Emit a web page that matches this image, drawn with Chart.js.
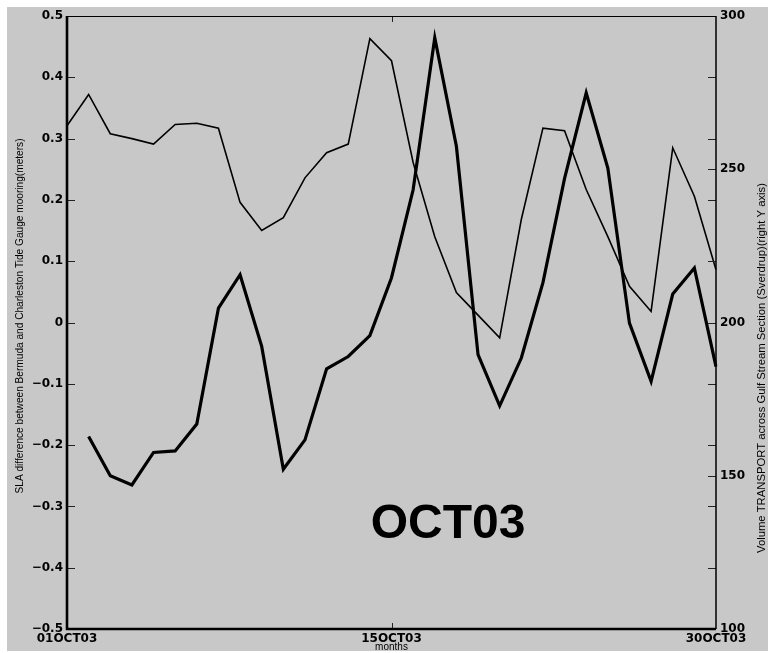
<!DOCTYPE html>
<html>
<head>
<meta charset="utf-8">
<script src="https://cdn.jsdelivr.net/npm/chart.js@4.4.1/dist/chart.umd.min.js"></script>
<style>
  html, body { margin: 0; padding: 0; background: #fff; }
  #wrap { width: 768px; height: 653px; }
</style>
</head>
<body>
<div id="wrap"><canvas id="myChart" width="768" height="653"></canvas></div>
<script>
// samples along the time axis (one every model step)
var samples = [1, 2, 3, 4, 5, 6, 7, 8, 9, 10, 11, 12, 13, 14, 15, 16,
               17, 18, 19, 20, 21, 22, 23, 24, 25, 26, 27, 28, 29, 30, 31];
var tickAt = [1, 16, 31];
var tickText = ['01OCT03', '15OCT03', '30OCT03'];

// SLA difference (meters), left axis - thin line
var sla = [0.321, 0.372, 0.308, 0.300, 0.291, 0.323, 0.325, 0.317, 0.196, 0.150,
           0.171, 0.236, 0.277, 0.291, 0.463, 0.427, 0.261, 0.140, 0.049, 0.012,
           -0.025, 0.168, 0.317, 0.313, 0.217, 0.140, 0.059, 0.018, 0.285, 0.206, 0.086];

// volume transport (Sverdrup), right axis - thick line
var transport = [null, 162.8, 150.0, 147.0, 157.6, 158.1, 166.9, 204.7, 215.6, 192.2,
                 152.1, 161.7, 184.9, 188.9, 195.7, 214.6, 243.3, 292.9, 257.5, 189.5,
                 172.8, 188.4, 213.0, 247.0, 274.9, 250.4, 199.8, 180.8, 209.3, 217.8, 185.6];

var leftTitle = 'SLA difference between Bermuda and Charleston Tide Gauge mooring(meters)';
var rightTitle = 'Volume TRANSPORT across Gulf Stream Section (Sverdrup)(right Y axis)';
var xTitle = 'months';
var stamp = 'OCT03';

var tickFont = { family: 'DejaVu Sans', size: 12, weight: 'bold' };

function fitText(ctx, txt, cx, cy, len) {
    // vertical text, reading bottom to top, squeezed to len pixels
    ctx.save();
    ctx.font = '10px "Liberation Sans"';
    var w = ctx.measureText(txt).width;
    ctx.translate(cx, cy);
    ctx.rotate(-Math.PI / 2);
    ctx.scale(len / w, 1);
    ctx.textAlign = 'center';
    ctx.textBaseline = 'middle';
    ctx.fillStyle = '#000';
    ctx.fillText(txt, 0, 0);
    ctx.restore();
}

var decor = {
    id: 'decor',
    beforeDraw: function(chart) {
        var ctx = chart.ctx;
        ctx.save();
        ctx.fillStyle = '#ffffff';
        ctx.fillRect(0, 0, chart.width, chart.height);
        ctx.fillStyle = '#c8c8c8';
        ctx.fillRect(7, 7, chart.width - 7, 644);
        ctx.restore();
    },
    afterDraw: function(chart) {
        var ctx = chart.ctx;
        var a = chart.chartArea;
        var x = chart.scales.x, y = chart.scales.y, y1 = chart.scales.y1;
        ctx.save();
        ctx.strokeStyle = '#222';
        ctx.lineWidth = 1;
        ctx.beginPath();
        y.ticks.forEach(function(t) {
            var py = Math.round(y.getPixelForValue(t.value)) + 0.5;
            ctx.moveTo(a.left, py); ctx.lineTo(a.left + 8, py);
            ctx.moveTo(a.right, py); ctx.lineTo(a.right - 8, py);
        });
        y1.ticks.forEach(function(t) {
            var py = Math.round(y1.getPixelForValue(t.value)) + 0.5;
            ctx.moveTo(a.right, py); ctx.lineTo(a.right - 8, py);
        });
        var mx = Math.round(x.getPixelForValue(15)) + 0.5;
        ctx.moveTo(mx, a.bottom); ctx.lineTo(mx, a.bottom - 6);
        ctx.moveTo(mx, a.top); ctx.lineTo(mx, a.top + 6);
        ctx.stroke();

        ctx.strokeStyle = '#000';
        ctx.lineWidth = 1.2;
        ctx.beginPath();
        ctx.moveTo(a.left, a.top + 0.5); ctx.lineTo(a.right, a.top + 0.5);
        ctx.stroke();
        ctx.lineWidth = 1.5;
        ctx.beginPath();
        ctx.moveTo(a.right, a.top); ctx.lineTo(a.right, a.bottom);
        ctx.stroke();
        ctx.lineWidth = 2.6;
        ctx.beginPath();
        ctx.moveTo(a.left, a.top); ctx.lineTo(a.left, a.bottom);
        ctx.lineTo(a.right, a.bottom);
        ctx.stroke();

        ctx.fillStyle = '#000';
        ctx.font = '10px "Liberation Sans"';
        ctx.textAlign = 'center';
        ctx.textBaseline = 'middle';
        ctx.fillText(xTitle, (a.left + a.right) / 2, 647);

        fitText(ctx, leftTitle, 20, 316, 355);
        fitText(ctx, rightTitle, 762, 368, 370);

        ctx.font = 'bold 48px "Liberation Sans"';
        ctx.textAlign = 'center';
        ctx.textBaseline = 'alphabetic';
        ctx.fillText(stamp, 448, 538);
        ctx.restore();
    }
};

var ctx = document.getElementById('myChart').getContext('2d');
var chart = new Chart(ctx, {
    type: 'line',
    data: {
        labels: samples,
        datasets: [{
            label: 'SLA',
            data: sla,
            yAxisID: 'y',
            borderColor: '#000',
            borderWidth: 1.6,
            pointRadius: 0,
            tension: 0,
            fill: false
        }, {
            label: 'Transport',
            data: transport,
            yAxisID: 'y1',
            borderColor: '#000',
            borderWidth: 3.2,
            pointRadius: 0,
            tension: 0,
            fill: false
        }]
    },
    options: {
        responsive: false,
        animation: false,
        layout: { padding: { top: 16, left: 0, right: 0, bottom: 0 } },
        plugins: { legend: { display: false }, tooltip: { enabled: false } },
        scales: {
            x: {
                type: 'category',
                offset: false,
                grid: { display: false, drawTicks: false },
                border: { display: false },
                ticks: {
                    autoSkip: false,
                    maxRotation: 0,
                    padding: 3,
                    color: '#000',
                    font: tickFont,
                    callback: function(v, i) {
                        var k = tickAt.indexOf(samples[i]);
                        return k >= 0 ? tickText[k] : '';
                    }
                },
                afterFit: function(s) { s.height = 24; }
            },
            y: {
                position: 'left',
                min: -0.5, max: 0.5,
                grid: { display: false, drawTicks: false },
                border: { display: false },
                ticks: {
                    stepSize: 0.1,
                    padding: 4,
                    color: '#000',
                    font: tickFont,
                    callback: function(v) {
                        if (Math.abs(v) < 1e-9) return '0';
                        return (v < 0 ? '\u2212' : '') + Math.abs(v).toFixed(1);
                    }
                },
                afterFit: function(s) { s.width = 67; }
            },
            y1: {
                position: 'right',
                min: 100, max: 300,
                grid: { display: false, drawTicks: false },
                border: { display: false },
                ticks: {
                    stepSize: 50,
                    padding: 4,
                    color: '#000',
                    font: tickFont
                },
                afterFit: function(s) { s.width = 52; }
            }
        }
    },
    plugins: [decor]
});
</script>
</body>
</html>
